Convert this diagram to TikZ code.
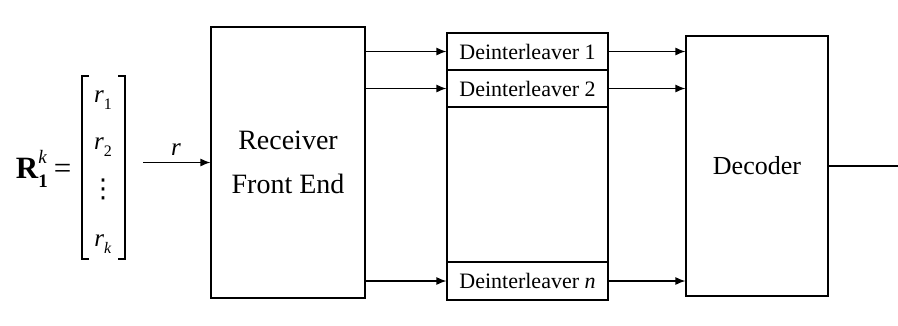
\documentclass[tikz,border=0pt]{standalone}
\usepackage{fontspec}
\setmainfont{Liberation Serif}
\newfontfamily\symfont{DejaVu Sans}
\usetikzlibrary{arrows.meta}
\newcommand{\subsz}{\fontsize{16}{16}\selectfont}
\newcommand{\rsub}[1]{\textit{r}\raisebox{-0.25em}{\subsz#1}}
\begin{document}
\begin{tikzpicture}[x=1pt,y=-1pt, line width=1.2pt,
  arr/.style={-{Latex[length=10pt,width=8pt]}},
  blk/.style={draw, rectangle, inner sep=0pt},
  drow/.style={blk, minimum width=161pt, minimum height=37pt, font=\fontsize{22}{22}\selectfont},
  ent/.style={font=\fontsize{25}{25}\selectfont, inner sep=0pt}
  ]
\useasboundingbox (0,0) rectangle (898,325);
% input vector
\node[font=\fontsize{31}{31}\selectfont, anchor=east, inner sep=0pt] (R) at (72,169)
  {\textbf{R}\makebox[0pt][l]{\raisebox{-0.3em}{\fontsize{19}{19}\selectfont\bfseries 1}}\raisebox{0.5em}{\fontsize{19}{19}\selectfont\itshape k}\hspace{7pt}=};
\draw (89,76) -- (82,76) -- (82,259) -- (89,259);
\draw (118,76) -- (125,76) -- (125,259) -- (118,259);
\node[ent] (r1) at (103,100) {\rsub{1}};
\node[ent] (r2) at (103,147) {\rsub{2}};
\node[inner sep=0pt, font=\symfont\fontsize{26}{26}\selectfont] (rd) at (103,189) {⋮};
\node[ent] (rk) at (103,244) {\rsub{\textit{k}}};
% receiver front end
\node[blk, minimum width=154pt, minimum height=271pt, font=\fontsize{28}{44}\selectfont, align=center] (rfe) at (288,162.5) {Receiver\\Front End};
\coordinate (rin) at (143,162.5);
\draw[arr] (rin) -- (rin -| rfe.west);
\node[ent] (rl) at (176,150) {\textit{r}};
% deinterleavers
\node[blk, minimum width=161pt, minimum height=267pt] (dblk) at (527.5,166.5) {};
\node[drow] (d1) at (527.5,51.5) {Deinterleaver 1};
\node[drow] (d2) at (527.5,88.5) {Deinterleaver 2};
\node[drow, minimum height=38pt] (dn) at (527.5,281) {Deinterleaver \textit{n}};
\draw[arr] (rfe.east |- d1.west) -- (d1.west);
\draw[arr] (rfe.east |- d2.west) -- (d2.west);
\draw[arr] (rfe.east |- dn.west) -- (dn.west);
% decoder
\node[blk, minimum width=142pt, minimum height=260pt, font=\fontsize{26}{26}\selectfont] (dec) at (757,166) {Decoder};
\draw[arr] (d1.east) -- (d1.east -| dec.west);
\draw[arr] (d2.east) -- (d2.east -| dec.west);
\draw[arr] (dn.east) -- (dn.east -| dec.west);
\coordinate (out) at (898,166);
\draw (dec.east) -- (out);
\end{tikzpicture}
\end{document}
